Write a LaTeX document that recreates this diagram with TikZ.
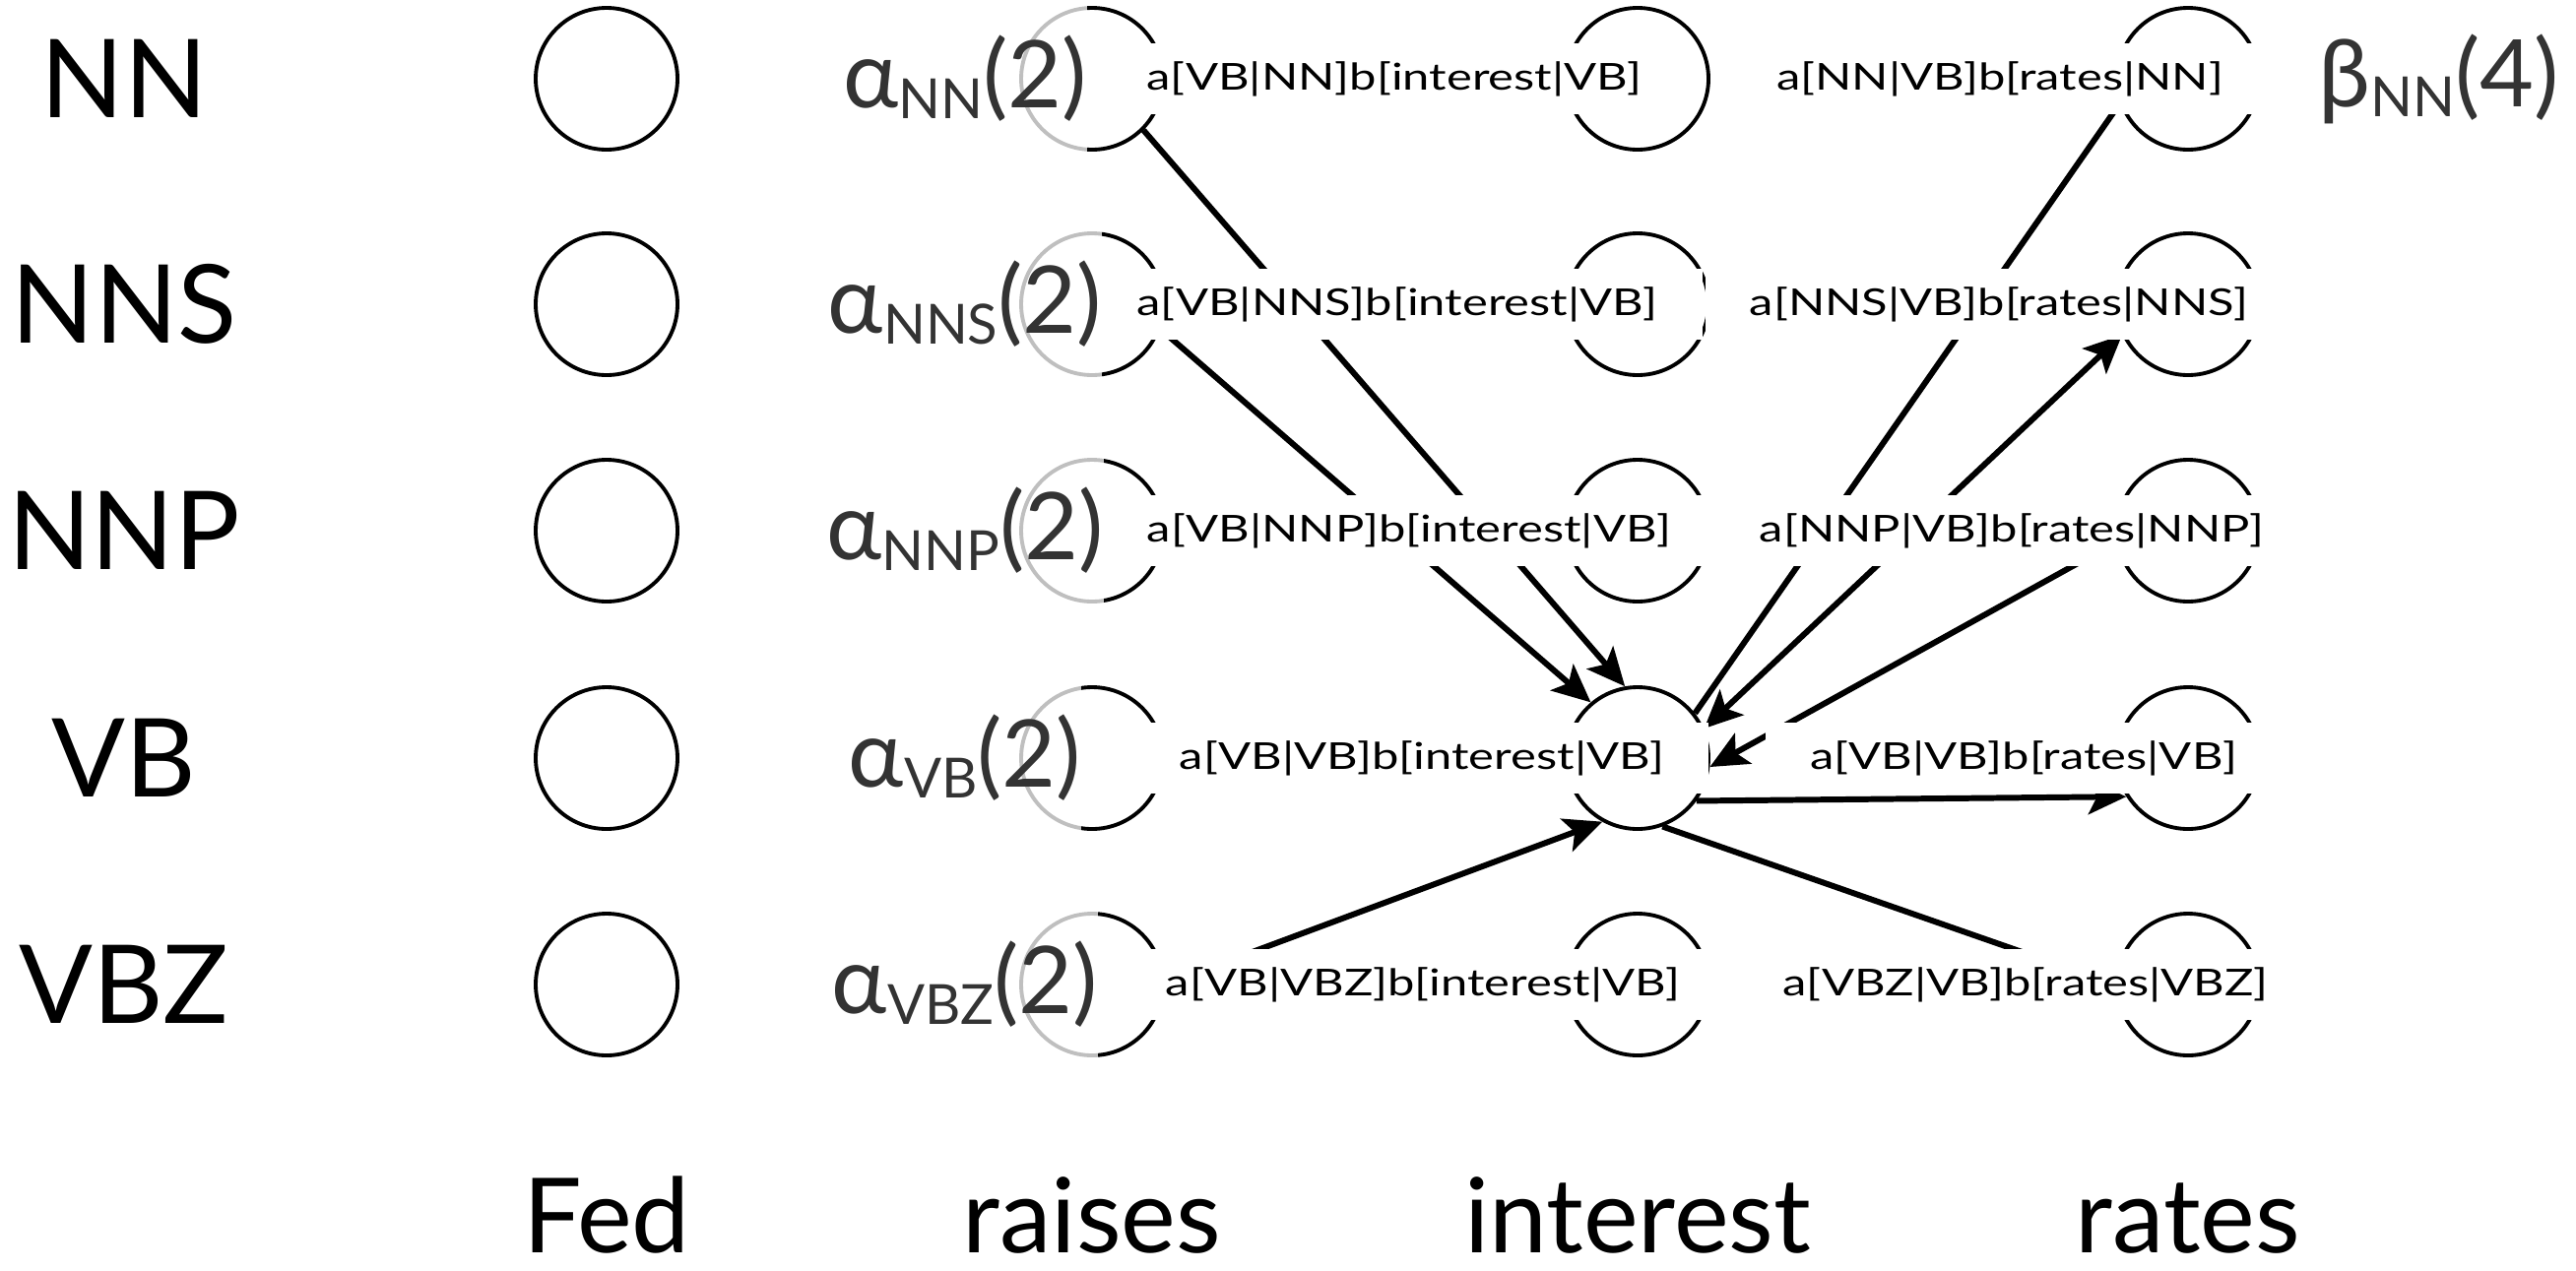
\documentclass[tikz,border=0pt]{standalone}
\usepackage{fontspec}
\setmainfont{Lato}
\newfontfamily\factorfont[FakeStretch=1.3]{Lato}
\usetikzlibrary{arrows.meta}
\colorlet{msggray}{black!80}
\newcommand{\msgsub}[1]{\raisebox{-3pt}{\fontsize{16}{16}\selectfont #1}}
\tikzset{
  msgtip/.tip={Stealth[length=11pt,width=10pt,inset=2.5pt]},
  state/.style={circle, draw, line width=1.1pt, minimum size=1.44cm, inner sep=0pt},
  tag/.style={font=\fontsize{31.5}{36}\selectfont},
  word/.style={font=\fontsize{30}{36}\selectfont, anchor=base, inner sep=0pt},
  factor/.style={fill=white, inner xsep=0.45cm, inner ysep=0pt, minimum height=0.72cm,
    font=\factorfont\fontsize{10.7}{12}\selectfont},
  msg/.style={fill=white, fill opacity=0.75, text opacity=1, text=msggray,
    inner xsep=0pt, minimum height=1.5cm, font=\fontsize{27}{30}\selectfont},
  link/.style={line width=1.7pt},
  flow/.style={link, -msgtip},
  both/.style={link, msgtip-msgtip},
}
\begin{document}
\begin{tikzpicture}
  \useasboundingbox (0,0) rectangle (26.16,-12.90);

  % Tags and trellis states
  \foreach \t/\y in {NN/-0.80,NNS/-3.09,NNP/-5.39,VB/-7.70,VBZ/-10.00} {
    \node[tag] (tag-\t) at (1.26,\y) {\t};
    \node[state] (fed-\t) at (6.16,\y) {};
    \node[state] (rai-\t) at (11.09,\y) {};
    \node[state] (int-\t) at (16.63,\y) {};
    \node[state] (rat-\t) at (22.22,\y) {};
  }

  % Words
  \foreach \w/\x in {Fed/6.16,raises/11.09,interest/16.63,rates/22.22}
    \node[word] (w-\w) at (\x,-12.72) {\w};

  % Messages through interest|VB
  \draw[flow] (rai-NN.-45) -- (int-VB.100);
  \draw[flow] (rai-NNS.-20) -- (int-VB.130);
  \draw[flow] (rai-VBZ.east) -- (int-VB.-119);
  \draw[link] (int-VB.38) -- (rat-NN.200);
  \draw[both] (int-VB.24) -- (rat-NNS.205);
  \draw[flow] (rat-NNP.189) -- (int-VB.-7);
  \draw[flow] (int-VB.-36) -- (rat-VB.-148);
  \draw[flow] (int-VB.-70) -- (rat-VBZ.180);

  % Factors and alphas
  \foreach \t/\y/\xi/\xr in {NN/-0.80/14.16/20.31,NNS/-3.09/14.19/20.30,
      NNP/-5.39/14.31/20.43,VB/-7.70/14.44/20.55,VBZ/-10.00/14.45/20.57} {
    \node[factor] (fi-\t) at (\xi,\y) {a[VB|\t]b[interest|VB]};
    \node[factor] (fr-\t) at (\xr,\y) {a[\t|VB]b[rates|\t]};
    \node[msg] (alpha-\t) at (9.80,\y) {α\msgsub{\t}(2)};
  }
  \node[msg] (beta-NN) at (24.77,-0.80) {β\msgsub{NN}(4)};
\end{tikzpicture}
\end{document}
